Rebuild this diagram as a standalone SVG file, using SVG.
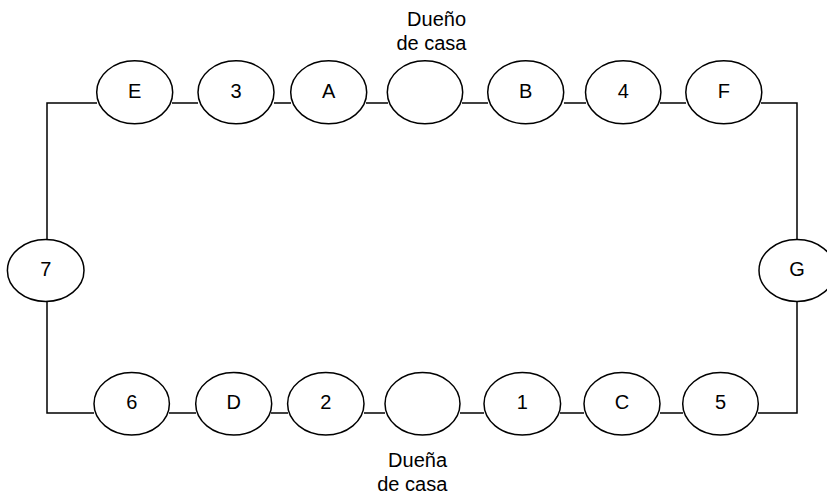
<svg xmlns="http://www.w3.org/2000/svg" width="827" height="498" viewBox="0 0 827 498">
<style>
.n{fill:#fff;stroke:#000;stroke-width:1.5}
.c{fill:none;stroke:#000;stroke-width:1.5}
text{font-family:"Liberation Sans",Arial,sans-serif;font-size:20px;fill:#000}
.l{text-anchor:middle;dominant-baseline:central}
.e{text-anchor:end}
</style>
<rect width="827" height="498" fill="#fff"/>
<g id="connectors">
<polyline class="c" points="97,103 47,103 47,240"/>
<polyline class="c" points="47,302 47,413 94,413"/>
<polyline class="c" points="761,103 797,103 797,240"/>
<polyline class="c" points="797,302 797,413 758,413"/>
<line class="c" x1="172" y1="103" x2="198" y2="103"/>
<line class="c" x1="274" y1="103" x2="291" y2="103"/>
<line class="c" x1="366" y1="103" x2="388" y2="103"/>
<line class="c" x1="462" y1="103" x2="488" y2="103"/>
<line class="c" x1="564" y1="103" x2="586" y2="103"/>
<line class="c" x1="660" y1="103" x2="686" y2="103"/>
<line class="c" x1="169" y1="413" x2="196" y2="413"/>
<line class="c" x1="271" y1="413" x2="288" y2="413"/>
<line class="c" x1="364" y1="413" x2="385" y2="413"/>
<line class="c" x1="460" y1="413" x2="484" y2="413"/>
<line class="c" x1="560" y1="413" x2="584" y2="413"/>
<line class="c" x1="660" y1="413" x2="683" y2="413"/>
</g>
<g id="nE"><ellipse class="n" cx="134.7" cy="92.3" rx="38" ry="31.5"/><text class="l" x="134.7" y="90.5">E</text></g>
<g id="n3"><ellipse class="n" cx="236" cy="92.3" rx="38" ry="31.5"/><text class="l" x="236" y="90.5">3</text></g>
<g id="nA"><ellipse class="n" cx="328.7" cy="92.3" rx="38" ry="31.5"/><text class="l" x="328.7" y="90.5">A</text></g>
<g id="nTop"><ellipse class="n" cx="425" cy="92.3" rx="37.7" ry="31.5"/></g>
<g id="nB"><ellipse class="n" cx="525.7" cy="92.3" rx="38" ry="31.5"/><text class="l" x="525.7" y="90.5">B</text></g>
<g id="n4"><ellipse class="n" cx="623.2" cy="92.3" rx="37.7" ry="31.5"/><text class="l" x="623.2" y="90.5">4</text></g>
<g id="nF"><ellipse class="n" cx="723.8" cy="92.3" rx="38" ry="31.5"/><text class="l" x="723.8" y="90.5">F</text></g>
<g id="n7"><ellipse class="n" cx="45.7" cy="270.5" rx="38.3" ry="31"/><text class="l" x="45.7" y="269">7</text></g>
<g id="nG"><ellipse class="n" cx="797" cy="270.5" rx="38" ry="31"/><text class="l" x="797" y="269">G</text></g>
<g id="n6"><ellipse class="n" cx="131.7" cy="403.8" rx="37.7" ry="31.2"/><text class="l" x="131.7" y="401.5">6</text></g>
<g id="nD"><ellipse class="n" cx="233.7" cy="403.8" rx="38" ry="31.2"/><text class="l" x="233.7" y="401.5">D</text></g>
<g id="n2"><ellipse class="n" cx="325.8" cy="403.8" rx="38.2" ry="31.2"/><text class="l" x="325.8" y="401.5">2</text></g>
<g id="nBottom"><ellipse class="n" cx="422.5" cy="403.8" rx="37.5" ry="31.2"/></g>
<g id="n1"><ellipse class="n" cx="522.3" cy="403.8" rx="38.3" ry="31.2"/><text class="l" x="522.3" y="401.5">1</text></g>
<g id="nC"><ellipse class="n" cx="622" cy="403.8" rx="38" ry="31.2"/><text class="l" x="622" y="401.5">C</text></g>
<g id="n5"><ellipse class="n" cx="720.5" cy="403.8" rx="37.8" ry="31.2"/><text class="l" x="720.5" y="401.5">5</text></g>
<g id="labelTop"><text class="e" x="466" y="26">Dueño</text><text class="e" x="466.5" y="50">de casa</text></g>
<g id="labelBottom"><text class="e" x="447" y="467">Dueña</text><text class="e" x="447.3" y="490.7">de casa</text></g>
</svg>
